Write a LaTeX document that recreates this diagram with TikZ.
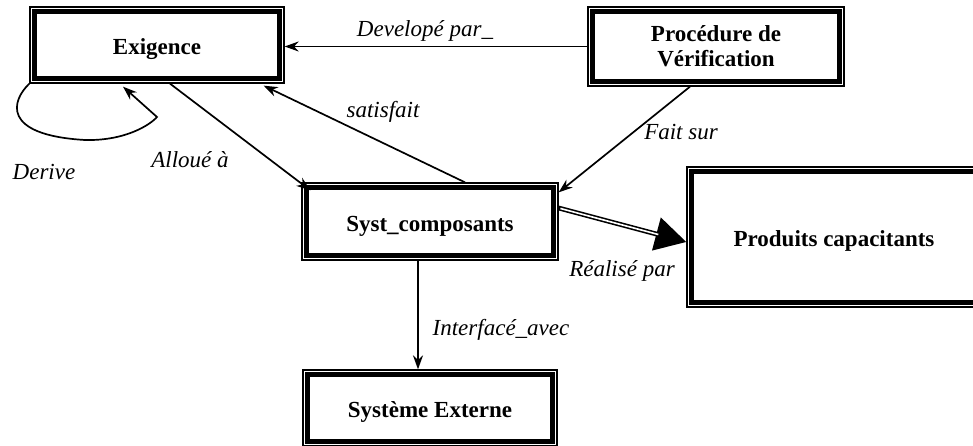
\documentclass[tikz,border=0pt]{standalone}
\usepackage{fontspec}
\setmainfont{Liberation Serif}
\usetikzlibrary{arrows.meta}
% thick inner rule of a framed box
\newcommand\innerrule[1]{\draw[line width=5.2pt] ([shift={(5pt,5pt)}]#1.south west) rectangle ([shift={(-5pt,-5pt)}]#1.north east);}
\begin{document}
\begin{tikzpicture}[x=1pt,y=-1pt,
  box/.style={draw, line width=1.3pt, rectangle, inner sep=0pt,
    font=\bfseries\fontsize{23}{25}\selectfont, align=center},
  onebox/.style={box, text height=19pt, text depth=0pt},
  lbl/.style={font=\itshape\fontsize{23}{25}\selectfont, anchor=base, inner sep=0pt},
  link/.style={line width=1.7pt, -{Stealth[length=14pt,width=10pt]}}]
\useasboundingbox (0,0) rectangle (973,446);

% boxes
\node[onebox, minimum width=254pt, minimum height=76pt] (exig) at (157,45) {Exigence};
\node[box, text depth=-2pt, minimum width=256pt, minimum height=79pt] (proc) at (716,46.5) {Procédure de\\Vérification};
\node[onebox, minimum width=256pt, minimum height=77pt] (syst) at (430,221.5) {Syst\_composants};
\node[onebox, minimum width=294pt, minimum height=140pt] (prod) at (834,237) {Produits capacitants};
\node[onebox, minimum width=254pt, minimum height=76pt] (ext) at (430,408) {Système Externe};
\innerrule{exig}
\innerrule{proc}
\innerrule{syst}
\innerrule{prod}
\innerrule{ext}

% connectors
\draw[link] (proc.west) -- (proc.west -| exig.east);
\draw[link] (exig.south west) .. controls (12,100) and (0,135) .. (85,140)
  .. controls (125,141) and (150,125) .. (157,117) -- ([xshift=-34pt,yshift=-3pt]exig.south);
\draw[link] ([xshift=13pt]exig.south) -- ([shift={(9pt,-8pt)}]syst.north west);
\draw[link] ([xshift=35pt]syst.north) -- ([shift={(-21pt,-2pt)}]exig.south east);
\draw[link] ([xshift=-26pt]proc.south) -- ([shift={(0pt,-10pt)}]syst.north east);
\draw[link] ([xshift=-12pt]syst.south) -- ([xshift=-12pt]syst.south |- ext.north);
\draw[line width=4.8pt, -{Triangle[length=31pt,width=33pt]}]
  ([yshift=13.5pt]syst.east) -- ([yshift=-5pt]prod.west);
\draw[white, line width=1.6pt, shorten <=1.8pt, shorten >=29pt]
  ([yshift=13.5pt]syst.east) -- ([yshift=-5pt]prod.west);

% connector labels
\node[lbl] (l1) at (425,37) {Developé par\_};
\node[lbl] (l2) at (44,180) {Derive};
\node[lbl] (l3) at (190,168) {Alloué à};
\node[lbl] (l4) at (383,118) {satisfait};
\node[lbl] (l5) at (681,140) {Fait sur};
\node[lbl] (l6) at (622,276) {Réalisé par};
\node[lbl] (l7) at (501,335) {Interfacé\_avec};
\end{tikzpicture}
\end{document}
